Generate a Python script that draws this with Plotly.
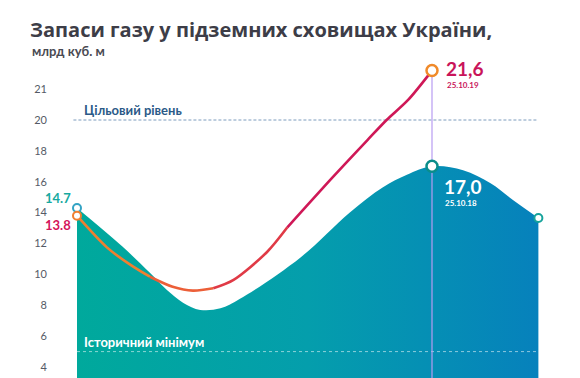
import plotly.graph_objects as go

# ---- data (days since 1 January) ----
days_2018 = [0, 38, 61, 75, 89, 103, 120, 136, 187, 228, 256, 276, 297, 323, 346, 365, 386]
gas_2018 = [14.3, 11.8, 10.1, 9.0, 8.15, 7.7, 7.8, 8.4, 11.1, 14.0, 15.65, 16.45, 17.0, 16.75, 15.9, 14.8, 13.65]

days_2019 = [0, 25, 47, 61, 80, 97, 114, 131, 159, 176, 214, 243, 259, 277, 297]
gas_2019 = [13.8, 11.75, 10.5, 9.85, 9.2, 8.95, 9.1, 9.65, 11.45, 13.05, 16.3, 18.7, 20.0, 20.65, 21.6]

tick_values = [4, 6, 8, 10, 12, 14, 16, 18, 20, 21]
target_level = 20
historic_min = 5
label_start_2018 = "14.7"
label_start_2019 = "13.8"
label_peak_2019 = "21,6"
label_peak_2018 = "17,0"
date_2019 = "25.10.19"
date_2018 = "25.10.18"


def T(v):
    # the chart stretches the scale above the target level
    return v if v <= 20 else 20 + 2 * (v - 20)


y18 = [T(v) for v in gas_2018]
y19 = [T(v) for v in gas_2019]

fig = go.Figure()

# teal area (2018)
fig.add_trace(go.Scatter(
    x=days_2018, y=y18, mode="lines", line=dict(width=0, shape="spline", smoothing=1.0),
    fill="tozeroy",
    fillgradient=dict(type="horizontal",
                      colorscale=[[0, "#00a99c"], [0.5, "#049eac"], [1, "#0681bc"]]),
    hoverinfo="skip", showlegend=False))

# historic minimum dashed line
fig.add_trace(go.Scatter(
    x=[days_2018[0], days_2018[-1]], y=[historic_min, historic_min], mode="lines",
    line=dict(color="rgba(255,255,255,0.55)", width=1, dash="3px,3px"),
    hoverinfo="skip", showlegend=False))

# vertical date line
peak_day = days_2019[-1]
fig.add_trace(go.Scatter(
    x=[peak_day, peak_day], y=[0, T(gas_2019[-1])], mode="lines",
    line=dict(color="#b79cf2", width=1.2), hoverinfo="skip", showlegend=False))

# 2019 line in coloured pieces
pieces = [(0, 3, "#f07f30"), (3, 6, "#ec5f38"), (6, 9, "#e03a46"), (9, 14, "#cf1857")]
for a, b, col in pieces:
    fig.add_trace(go.Scatter(
        x=days_2019[a:b + 1], y=y19[a:b + 1], mode="lines",
        line=dict(color=col, width=2.6, shape="spline", smoothing=0.8),
        hoverinfo="skip", showlegend=False))


def marker(x, y, col, size, lw):
    fig.add_trace(go.Scatter(
        x=[x], y=[y], mode="markers",
        marker=dict(size=size, color="white", line=dict(color=col, width=lw)),
        hoverinfo="skip", showlegend=False))


marker(days_2018[0], y18[0], "#33a3c4", 8, 2)
marker(days_2019[0], y19[0], "#f07f30", 8, 2)
marker(days_2019[-1], y19[-1], "#f08a2a", 11, 2.5)
marker(days_2018[12], y18[12], "#0a8d8a", 11, 2.5)
marker(days_2018[-1], y18[-1], "#16a39b", 8, 2)

# target dashed line
fig.add_shape(type="line", x0=-3, x1=386, y0=target_level, y1=target_level,
              xref="x", yref="y", line=dict(color="#7d9cbd", width=1, dash="3px,2px"),
              layer="below")

FONT = "Lato, Noto Sans, sans-serif"
TFONT = "Open Sans, Lato, sans-serif"
ann = [
    dict(x=-3.3, y=14.95, text="<b>" + label_start_2018 + "</b>", xanchor="right",
         font=dict(color="#17a99f", size=13)),
    dict(x=-3.3, y=13.2, text="<b>" + label_start_2019 + "</b>", xanchor="right",
         font=dict(color="#d4145a", size=13)),
    dict(x=307, y=23.35, text="<b>" + label_peak_2019 + "</b>", xanchor="left",
         font=dict(color="#c9145a", size=19)),
    dict(x=307.5, y=22.25, text="<b>" + date_2019 + "</b>", xanchor="left",
         font=dict(color="#c9145a", size=8)),
    dict(x=305.5, y=15.72, text="<b>" + label_peak_2018 + "</b>", xanchor="left",
         font=dict(color="white", size=19)),
    dict(x=306, y=14.62, text="<b>" + date_2018 + "</b>", xanchor="left",
         font=dict(color="white", size=8)),
    dict(x=4, y=20.65, text="<b>Цільовий рівень</b>", xanchor="left",
         font=dict(color="#2b5a88", size=13)),
    dict(x=4, y=5.6, text="<b>Історичний мінімум</b>", xanchor="left",
         font=dict(color="white", size=13)),
    dict(x=-0.034, y=1.028, xref="paper", yref="paper", text="<b>млрд куб. м</b>",
         xanchor="left", font=dict(color="#4a4a52", size=13)),
]
for a in ann:
    a.setdefault("xref", "x")
    a.setdefault("yref", "y")
    a["showarrow"] = False
    a["yanchor"] = "middle"
    a["font"]["family"] = FONT

# the page body adds an 8px offset; compensate
OFF = 8
px_per_day = 1.1953
left_px = 48
x0 = -(77 - left_px) / px_per_day
x1 = (580 - 77) / px_per_day

fig.update_layout(
    width=580, height=378,
    margin=dict(l=left_px - OFF, r=OFF, t=60 - OFF, b=OFF),
    paper_bgcolor="white", plot_bgcolor="white",
    title=dict(text="<b>Запаси газу у підземних сховищах України,</b>",
               x=(30 - OFF) / 580, xanchor="left", xref="container",
               y=1 - (30 - OFF) / 378, yanchor="middle", yref="container",
               font=dict(family=TFONT, size=20, color="#3d3d47")),
    xaxis=dict(range=[x0, x1], visible=False),
    yaxis=dict(range=[3.29, 3.29 + 318 / 15.44], tickvals=[T(v) for v in tick_values],
               ticktext=[str(v) for v in tick_values], showgrid=False, zeroline=False,
               showline=False, ticks="", tickfont=dict(family=FONT, size=11, color="#555a66")),
    annotations=ann,
    font=dict(family=FONT),
)

fig.write_html("out.html")
